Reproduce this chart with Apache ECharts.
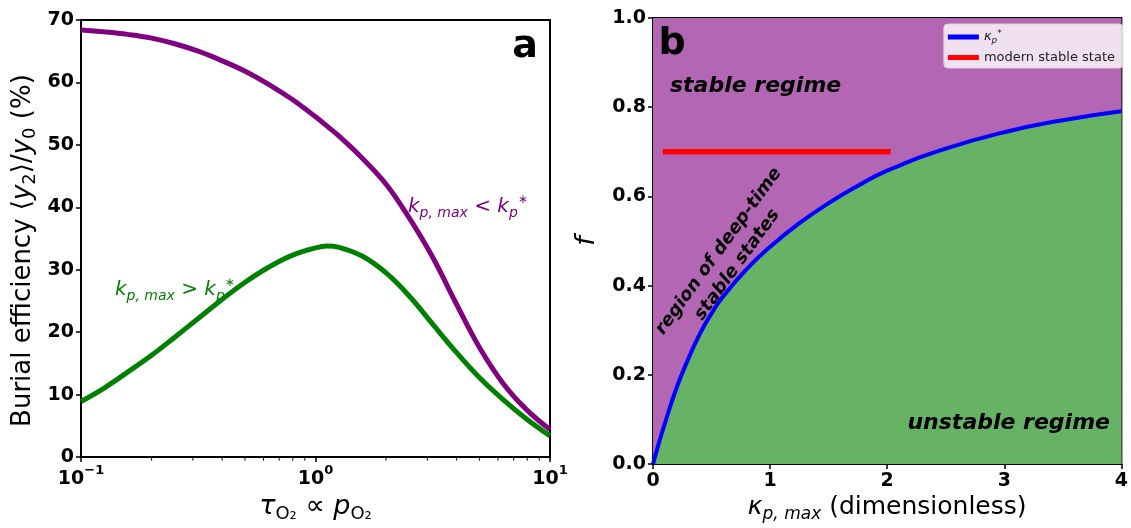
<!DOCTYPE html>
<html>
<head>
<meta charset="utf-8">
<script src="https://cdn.jsdelivr.net/npm/echarts@6/dist/echarts.min.js"></script>
<style>
  html,body{margin:0;padding:0;background:#fff;}
  #main{width:1131px;height:528px;}
</style>
</head>
<body>
<div id="main"></div>
<script>
// panel a: burial efficiency vs tau (log x), read at ~10 points per decade
var tauA = [0.1, 0.126, 0.158, 0.2, 0.251, 0.316, 0.398, 0.501, 0.631, 0.794, 1, 1.12,
            1.26, 1.58, 2, 2.51, 3.16, 3.98, 5.01, 6.31, 7.94, 10];
var effPurple = [68.4, 68.1, 67.7, 67.1, 66.2, 65.0, 63.5, 61.8, 59.7, 57.3, 54.5, 53.0,
                 51.4, 47.9, 43.7, 38.3, 32.0, 24.6, 17.5, 11.8, 7.6, 4.4];
var effGreen = [8.9, 11.1, 13.6, 16.3, 19.2, 22.2, 25.2, 28.0, 30.4, 32.3, 33.5, 33.8,
                33.6, 32.2, 29.5, 25.8, 21.3, 16.8, 12.7, 9.2, 6.1, 3.4];
var minorTicksA = [0.2, 0.3, 0.4, 0.5, 0.6, 0.7, 0.8, 0.9, 2, 3, 4, 5, 6, 7, 8, 9];

// panel b: kappa* curve and modern state
var kappa = [0, 0.05, 0.1, 0.2, 0.3, 0.4, 0.5, 0.6, 0.8, 1, 1.25, 1.5, 1.75, 2, 2.5, 3, 3.5, 4];
var fCrit = [0, 0.047, 0.09, 0.17, 0.235, 0.292, 0.338, 0.376, 0.437, 0.487, 0.540, 0.585,
             0.624, 0.658, 0.707, 0.744, 0.771, 0.791];
var modernK = [0.084, 2.03];
var modernF = [0.7, 0.7];

var FONT = 'DejaVu Sans';
var PURPLE = '#800080', GREEN = '#008000';

function pairs(xs, ys){
    var out = [];
    xs.forEach(function(x, i){ out.push([x, ys[i]]); });
    return out;
}

var tickLabel = {color:'#000', fontFamily:FONT, fontWeight:'bold', fontSize:19};
function mathRich(size){
    return {
        n:{fontFamily:FONT, fontSize:size, lineHeight:size + 6, verticalAlign:'middle', color:'#000'},
        i:{fontFamily:FONT, fontSize:size, fontStyle:'italic', lineHeight:size + 6, verticalAlign:'middle', color:'#000'},
        sb:{fontFamily:FONT, fontSize:Math.round(size * 0.68), lineHeight:Math.round(size * 0.68), verticalAlign:'bottom', color:'#000'},
        sbi:{fontFamily:FONT, fontSize:Math.round(size * 0.68), fontStyle:'italic', lineHeight:Math.round(size * 0.68), verticalAlign:'bottom', color:'#000'}
    };
}
function labelRich(col){
    return {
        m:{fontFamily:FONT, fontStyle:'italic', fontSize:20, lineHeight:26, verticalAlign:'middle', fill:col},
        n:{fontFamily:FONT, fontSize:20, lineHeight:26, verticalAlign:'middle', fill:col},
        s:{fontFamily:FONT, fontStyle:'italic', fontSize:14, lineHeight:14, verticalAlign:'bottom', fill:col},
        u:{fontFamily:FONT, fontSize:12, lineHeight:12, verticalAlign:'top', fill:col}
    };
}

var myChart = echarts.init(document.getElementById('main'));

var option = {
    animation:false,
    backgroundColor:'#fff',
    grid:[
        {left:81, top:20, width:469, height:453, show:true, borderColor:'#000', borderWidth:2, backgroundColor:'transparent'},
        {left:653, top:18, width:475, height:454, show:true, borderColor:'#000', borderWidth:2, backgroundColor:'transparent'}
    ],
    xAxis:[
        {
            type:'log', gridIndex:0, logBase:10, min:0.1, max:10,
            axisLine:{show:true, lineStyle:{color:'#000', width:2}},
            axisTick:{show:true, length:5, lineStyle:{color:'#000', width:1.5}},
            splitLine:{show:false},
            axisLabel:{
                margin:7,
                formatter:function(v){
                    var e = Math.round(Math.log10(v));
                    return '{b|10}{e|' + (e < 0 ? '\u2212' + (-e) : e) + '}';
                },
                rich:{
                    b:{fontFamily:FONT, fontWeight:'bold', fontSize:19, lineHeight:24, verticalAlign:'bottom', color:'#000'},
                    e:{fontFamily:FONT, fontWeight:'bold', fontSize:13, lineHeight:13, verticalAlign:'top', color:'#000'}
                }
            },
            name:'{i|\u03c4}{sb|O\u2082}{n| \u221d }{i|p}{sb|O\u2082}',
            nameLocation:'middle', nameGap:27,
            nameTextStyle:{rich:mathRich(27)}
        },
        {
            type:'value', gridIndex:1, min:0, max:4, interval:1,
            axisLine:{show:true, lineStyle:{color:'#000', width:2}},
            axisTick:{show:true, length:5, lineStyle:{color:'#000', width:1.5}},
            splitLine:{show:false},
            axisLabel:Object.assign({margin:7}, tickLabel),
            name:'{i|\u03ba}{sbi|p, max}{n| (dimensionless)}',
            nameLocation:'middle', nameGap:26,
            nameTextStyle:{rich:mathRich(25)}
        }
    ],
    yAxis:[
        {
            type:'value', gridIndex:0, min:0, max:70, interval:10,
            axisLine:{show:true, lineStyle:{color:'#000', width:2}},
            axisTick:{show:true, length:5, lineStyle:{color:'#000', width:1.5}},
            splitLine:{show:false},
            axisLabel:Object.assign({margin:7}, tickLabel),
            name:'{n|Burial efficiency \u27e8}{i|y}{sb|2}{n|\u27e9/}{i|y}{sb|0}{n| (%)}',
            nameLocation:'middle', nameGap:42,
            nameTextStyle:{rich:mathRich(26), padding:[0, 24, 0, 0]}
        },
        {
            type:'value', gridIndex:1, min:0, max:1, interval:0.2,
            axisLine:{show:true, lineStyle:{color:'#000', width:2}},
            axisTick:{show:true, length:5, lineStyle:{color:'#000', width:1.5}},
            splitLine:{show:false},
            axisLabel:Object.assign({margin:7, formatter:function(v){ return v.toFixed(1); }}, tickLabel),
            name:'{i|f}',
            nameLocation:'middle', nameGap:50,
            nameTextStyle:{rich:mathRich(27)}
        }
    ],
    legend:{
        data:['kstar', 'modern stable state'],
        orient:'vertical', right:8, top:24,
        icon:'rect', itemWidth:31, itemHeight:5, itemGap:6,
        backgroundColor:'rgba(255,255,255,0.8)', borderColor:'#d8d8d8', borderWidth:1, borderRadius:4,
        padding:[5,8,4,4],
        textStyle:{fontFamily:FONT, fontSize:13, color:'#222',
            rich:{
                i:{fontFamily:FONT, fontSize:13, fontStyle:'italic', lineHeight:16, verticalAlign:'middle', color:'#222'},
                s:{fontFamily:FONT, fontSize:9, fontStyle:'italic', lineHeight:9, verticalAlign:'bottom', color:'#222'},
                u:{fontFamily:FONT, fontSize:9, lineHeight:9, verticalAlign:'top', color:'#222'}
            }
        },
        formatter:function(name){
            return name === 'kstar' ? '{i|\u03ba}{s|p}{u|*}' : name;
        }
    },
    series:[
        {
            name:'purple', type:'line', xAxisIndex:0, yAxisIndex:0,
            data:pairs(tauA, effPurple), smooth:0.4, symbol:'none',
            lineStyle:{color:PURPLE, width:5}, itemStyle:{color:PURPLE}, z:3
        },
        {
            name:'green', type:'line', xAxisIndex:0, yAxisIndex:0,
            data:pairs(tauA, effGreen), smooth:0.4, symbol:'none',
            lineStyle:{color:GREEN, width:5}, itemStyle:{color:GREEN}, z:3
        },
        {
            name:'minor', type:'custom', xAxisIndex:0, yAxisIndex:0, silent:true,
            data:minorTicksA.map(function(v){ return [v, 0]; }),
            renderItem:function(params, api){
                var p = api.coord([api.value(0), 0]);
                return {type:'line', shape:{x1:p[0], y1:p[1] + 1, x2:p[0], y2:p[1] + 3.5},
                    style:{stroke:'#000', lineWidth:1}};
            }
        },
        {
            name:'stableBg', type:'line', xAxisIndex:1, yAxisIndex:1,
            data:[[0, 1], [4, 1]], symbol:'none', silent:true,
            lineStyle:{width:0}, areaStyle:{color:'#b366b3', opacity:1}, z:1
        },
        {
            name:'kstar', type:'line', xAxisIndex:1, yAxisIndex:1,
            data:pairs(kappa, fCrit), smooth:0.5, symbol:'none',
            lineStyle:{color:'#0000ff', width:4}, itemStyle:{color:'#0000ff'},
            areaStyle:{color:'#66b366', opacity:1}, z:2
        },
        {
            name:'modern stable state', type:'line', xAxisIndex:1, yAxisIndex:1,
            data:pairs(modernK, modernF), symbol:'none',
            lineStyle:{color:'#ff0000', width:5.5, cap:'butt'}, itemStyle:{color:'#ff0000'}, z:3
        }
    ],
    graphic:[
        {type:'text', z:10, style:{x:525, y:47, text:'a', align:'center', verticalAlign:'middle',
            fontFamily:FONT, fontWeight:'bold', fontSize:38, fill:'#000'}},
        {type:'text', z:10, style:{x:672, y:44, text:'b', align:'center', verticalAlign:'middle',
            fontFamily:FONT, fontWeight:'bold', fontSize:38, fill:'#000'}},
        {type:'text', z:10, style:{x:408, y:207, verticalAlign:'middle',
            text:'{m|k}{s|p, max}{n| < }{m|k}{s|p}{u|\u2217}', rich:labelRich(PURPLE)}},
        {type:'text', z:10, style:{x:115, y:290, verticalAlign:'middle',
            text:'{m|k}{s|p, max}{n| > }{m|k}{s|p}{u|\u2217}', rich:labelRich(GREEN)}},
        {type:'text', z:10, style:{x:670, y:86, text:'stable regime', verticalAlign:'middle',
            fontFamily:FONT, fontWeight:'bold', fontStyle:'italic', fontSize:22, fill:'#000'}},
        {type:'text', z:10, style:{x:1110, y:423, text:'unstable regime', align:'right', verticalAlign:'middle',
            fontFamily:FONT, fontWeight:'bold', fontStyle:'italic', fontSize:22, fill:'#000'}},
        {type:'text', z:10, x:728, y:258, rotation:54 * Math.PI / 180,
            style:{x:0, y:0, text:'region of deep-time\nstable states', align:'center', verticalAlign:'middle',
            lineHeight:23, fontFamily:FONT, fontWeight:'bold', fontStyle:'italic', fontSize:18, fill:'#000'}}
    ]
};

myChart.setOption(option);
</script>
</body>
</html>
